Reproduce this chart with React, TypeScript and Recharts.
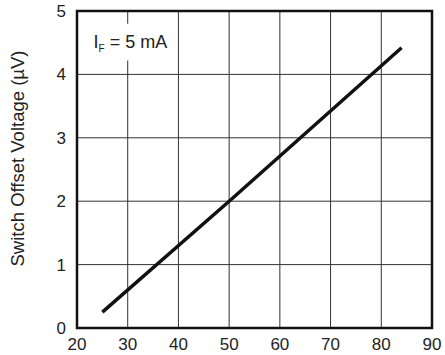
import { CartesianGrid, Label, Line, LineChart, ReferenceArea, XAxis, YAxis } from "recharts";

// Switch offset voltage vs. temperature at IF = 5 mA.

const TEMPS = [25, 50, 84];
const OFFSET_UV = [0.25, 2.0, 4.42];

const X_TICKS = [20, 30, 40, 50, 60, 70, 80, 90];
const Y_TICKS = [0, 1, 2, 3, 4, 5];

const Y_TITLE = "Switch Offset Voltage (µV)";
const FONT = "'Liberation Sans', Arial, Helvetica, sans-serif";

const data = TEMPS.map((t, i) => ({ t, v: OFFSET_UV[i] }));

function YTitle(props: any) {
  const vb = props.viewBox || { y: 11, height: 317 };
  const cx = 17;
  const cy = vb.y + vb.height / 2 - 11;
  return (
    <text
      x={cx}
      y={cy}
      transform={`rotate(-90 ${cx} ${cy})`}
      textAnchor="middle"
      dominantBaseline="central"
      fontSize={18.5}
      fill="#222"
      fontFamily={FONT}
    >
      {Y_TITLE}
    </text>
  );
}

function CurrentNote(props: any) {
  const vb = props.viewBox || { x: 0, y: 0, height: 0 };
  const x = vb.x + 14;
  const y = vb.y + vb.height / 2 + 6;
  return (
    <text x={x} y={y} fontSize={18} fill="#222" fontFamily={FONT}>
      I
      <tspan fontSize={10} dy={4}>F</tspan>
      <tspan dy={-4}> = 5 mA</tspan>
    </text>
  );
}

export default function App() {
  return (
    <div style={{ position: "fixed", left: 0, top: 0, background: "#fff" }}>
      <LineChart
        width={445}
        height={355}
        data={data}
        margin={{ top: 11, right: 13, bottom: 0, left: 0 }}
        style={{ fontFamily: FONT }}
      >
        <CartesianGrid stroke="#333" strokeWidth={1} />
        <XAxis
          dataKey="t"
          type="number"
          domain={[20, 90]}
          ticks={X_TICKS}
          height={27}
          tickSize={0}
          tickMargin={10}
          axisLine={false}
          tick={{ fontSize: 17, fill: "#222" }}
        />
        <YAxis
          type="number"
          domain={[0, 5]}
          ticks={Y_TICKS}
          width={77}
          tickSize={0}
          tickMargin={11}
          axisLine={false}
          tick={{ fontSize: 17, fill: "#222" }}
          label={<Label content={YTitle} />}
        />
        <ReferenceArea x1={20.5} x2={38.5} y1={4.22} y2={4.8} fill="#fff" fillOpacity={1} stroke="none">
          <Label content={CurrentNote} />
        </ReferenceArea>
        <ReferenceArea
          x1={20}
          x2={90}
          y1={0}
          y2={5}
          fill="none"
          stroke="#111"
          strokeWidth={2.5}
          ifOverflow="visible"
        />
        <Line
          dataKey="v"
          type="linear"
          stroke="#111"
          strokeWidth={3.5}
          dot={false}
          isAnimationActive={false}
        />
      </LineChart>
    </div>
  );
}
